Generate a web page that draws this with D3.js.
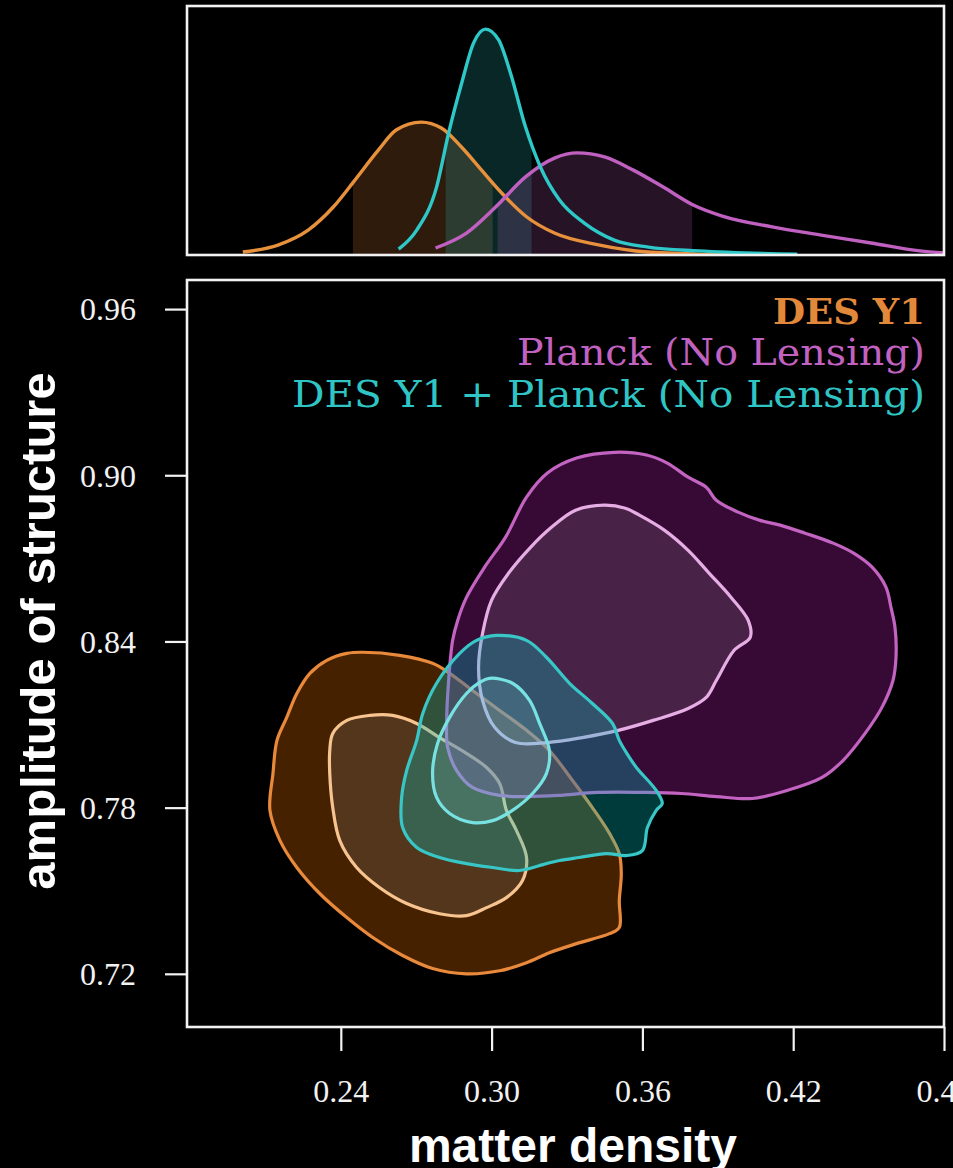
<!DOCTYPE html>
<html><head><meta charset="utf-8">
<script src="https://cdn.jsdelivr.net/npm/d3@7"></script>
<style>html,body{margin:0;padding:0;background:#000;} svg{display:block;}</style>
</head><body>
<svg id="chart" width="953" height="1168"></svg>
<script>
// ---------------- data ----------------
const xTicks = [0.24, 0.30, 0.36, 0.42, 0.48];
const xTickLabels = ["0.24", "0.30", "0.36", "0.42", "0.48"];
const yTicks = [0.72, 0.78, 0.84, 0.90, 0.96];
const yTickLabels = ["0.72", "0.78", "0.84", "0.90", "0.96"];
const xLimits = [0.1788, 0.48];
const yLimits = [0.7008, 0.9705];
const seriesNames = ["DES Y1", "Planck (No Lensing)", "DES Y1 + Planck (No Lensing)"];
const xTitle = "matter density";
const yTitle = "amplitude of structure";

// 1D marginal posteriors of matter density (relative density)
const desMargX = [0.201,0.215,0.227,0.237,0.245,0.255,0.262,0.272,0.280,0.288,0.296,0.304,0.314,0.325,0.343,0.362,0.382,0.414];
const desMargD = [0.013,0.044,0.110,0.212,0.322,0.464,0.552,0.587,0.561,0.477,0.375,0.274,0.168,0.097,0.044,0.013,0.004,0.000];
const jointMargX = [0.263,0.2702,0.2781,0.2829,0.2881,0.2928,0.2976,0.3028,0.3075,0.3135,0.3194,0.327,0.3369,0.3488,0.3624,0.3822,0.4216];
const jointMargD = [0.026,0.110,0.300,0.539,0.760,0.936,0.998,0.950,0.804,0.565,0.389,0.243,0.141,0.066,0.035,0.018,0.004];
const planckMargX = [0.2777,0.29,0.3016,0.3135,0.325,0.3341,0.3449,0.3564,0.3683,0.3802,0.3918,0.4116,0.4311,0.451,0.4704,0.4804];
const planckMargD = [0.031,0.097,0.212,0.345,0.428,0.451,0.433,0.375,0.300,0.221,0.172,0.124,0.088,0.053,0.018,0.009];
const desBand = [0.2448, 0.3004];
const jointBand = [0.2817, 0.3159];
const planckBand = [0.3024, 0.3798];

// 2D contours [matter density, amplitude of structure]
const desOuter = [[0.2487,0.8361],[0.2634,0.8350],[0.2765,0.8321],[0.2833,0.8285],[0.2924,0.8223],[0.3032,0.8151],[0.3139,0.8079],[0.3230,0.8006],[0.3322,0.7898],[0.3401,0.7800],[0.3469,0.7707],[0.3508,0.7634],[0.3516,0.7562],[0.3508,0.7464],[0.3508,0.7367],[0.3469,0.7345],[0.3338,0.7309],[0.3230,0.7276],[0.3139,0.7240],[0.3032,0.7211],[0.2900,0.7200],[0.2765,0.7219],[0.2646,0.7266],[0.2527,0.7331],[0.2424,0.7403],[0.2316,0.7490],[0.2225,0.7584],[0.2158,0.7681],[0.2118,0.7790],[0.2130,0.7923],[0.2146,0.8043],[0.2185,0.8126],[0.2225,0.8212],[0.2277,0.8285],[0.2344,0.8332],[0.2424,0.8357]];
const desInner = [[0.2368,0.8068],[0.2424,0.8115],[0.2515,0.8133],[0.2606,0.8133],[0.2702,0.8104],[0.2793,0.8053],[0.2900,0.7996],[0.2980,0.7945],[0.3032,0.7887],[0.3059,0.7790],[0.3099,0.7717],[0.3139,0.7620],[0.3123,0.7537],[0.3059,0.7475],[0.2980,0.7439],[0.2900,0.7410],[0.2793,0.7417],[0.2662,0.7454],[0.2555,0.7511],[0.2463,0.7584],[0.2396,0.7681],[0.2368,0.7800],[0.2356,0.7923],[0.2356,0.8006]];
const planckOuter = [[0.3488,0.9083],[0.3616,0.9073],[0.3699,0.9044],[0.3782,0.8993],[0.3854,0.8957],[0.3894,0.8910],[0.3981,0.8867],[0.4065,0.8838],[0.4148,0.8820],[0.4247,0.8791],[0.4359,0.8755],[0.4442,0.8718],[0.4514,0.8668],[0.4569,0.8596],[0.4589,0.8523],[0.4605,0.8451],[0.4609,0.8343],[0.4597,0.8259],[0.4553,0.8162],[0.4486,0.8068],[0.4398,0.7970],[0.4315,0.7909],[0.4176,0.7862],[0.4037,0.7833],[0.3894,0.7840],[0.3755,0.7851],[0.3616,0.7855],[0.3421,0.7855],[0.3266,0.7844],[0.3139,0.7840],[0.3032,0.7844],[0.2924,0.7873],[0.2861,0.7934],[0.2825,0.8017],[0.2821,0.8104],[0.2829,0.8259],[0.2845,0.8404],[0.2865,0.8476],[0.2900,0.8559],[0.2972,0.8668],[0.3055,0.8776],[0.3139,0.8921],[0.3222,0.9008],[0.3338,0.9062]];
const planckInner = [[0.3449,0.8892],[0.3532,0.8881],[0.3588,0.8856],[0.3687,0.8802],[0.3782,0.8729],[0.3866,0.8646],[0.3953,0.8559],[0.4021,0.8476],[0.4029,0.8415],[0.3965,0.8368],[0.3894,0.8259],[0.3854,0.8198],[0.3782,0.8158],[0.3643,0.8115],[0.3504,0.8079],[0.3361,0.8053],[0.3222,0.8035],[0.3095,0.8035],[0.3012,0.8090],[0.2964,0.8187],[0.2948,0.8306],[0.2964,0.8429],[0.3000,0.8549],[0.3067,0.8646],[0.3155,0.8740],[0.3238,0.8812],[0.3334,0.8874]];
const jointOuter = [[0.3020,0.8422],[0.3139,0.8404],[0.3218,0.8343],[0.3310,0.8249],[0.3401,0.8176],[0.3481,0.8104],[0.3508,0.8043],[0.3536,0.7999],[0.3576,0.7945],[0.3655,0.7862],[0.3679,0.7815],[0.3655,0.7790],[0.3620,0.7728],[0.3600,0.7645],[0.3536,0.7627],[0.3457,0.7634],[0.3349,0.7620],[0.3270,0.7609],[0.3218,0.7598],[0.3111,0.7573],[0.3004,0.7584],[0.2900,0.7598],[0.2793,0.7620],[0.2702,0.7656],[0.2646,0.7728],[0.2642,0.7837],[0.2662,0.7934],[0.2702,0.8043],[0.2726,0.8140],[0.2781,0.8249],[0.2873,0.8357],[0.2940,0.8404]];
const jointInner = [[0.2992,0.8267],[0.3083,0.8249],[0.3151,0.8187],[0.3191,0.8104],[0.3230,0.8006],[0.3218,0.7923],[0.3163,0.7851],[0.3083,0.7790],[0.3004,0.7753],[0.2924,0.7746],[0.2833,0.7779],[0.2781,0.7837],[0.2765,0.7923],[0.2785,0.8032],[0.2833,0.8126],[0.2900,0.8212],[0.2952,0.8252]];

// ---------------- layout / styles ----------------
const L = 187, R = 944, T = 280, B = 1027, TT = 6, TB = 255;
const svg = d3.select("#chart");
svg.append("rect").attr("width", 953).attr("height", 1168).attr("fill", "#000");

const x = d3.scaleLinear().domain(xLimits).range([L, R]);
const y = d3.scaleLinear().domain(yLimits).range([B, T]);
const yt = d3.scaleLinear().domain([0, 1.1]).range([TB, TT]);

const defs = svg.append("defs");
defs.append("clipPath").attr("id", "clipMain").append("rect").attr("x", L).attr("y", T).attr("width", R - L).attr("height", B - T);
defs.append("clipPath").attr("id", "clipTop").append("rect").attr("x", L).attr("y", TT).attr("width", R - L).attr("height", TB - TT);

// ---------------- top panel ----------------
const topG = svg.append("g").attr("clip-path", "url(#clipTop)");
const margs = [
  {xs: desMargX, ds: desMargD, band: desBand, col: "#e8913c", fill: "#e8893a"},
  {xs: jointMargX, ds: jointMargD, band: jointBand, col: "#2ec8c8", fill: "#2ec4c4"},
  {xs: planckMargX, ds: planckMargD, band: planckBand, col: "#c060c0", fill: "#c060c0"}
];
const area1 = d3.area().x(d => x(d[0])).y0(yt(0)).y1(d => yt(d[1])).curve(d3.curveMonotoneX);
const line1 = d3.line().x(d => x(d[0])).y(d => yt(d[1])).curve(d3.curveMonotoneX);
margs.forEach((m, i) => {
  const pts = m.xs.map((v, j) => [v, m.ds[j]]);
  const cid = "band" + i;
  defs.append("clipPath").attr("id", cid).append("rect")
    .attr("x", x(m.band[0])).attr("y", TT).attr("width", x(m.band[1]) - x(m.band[0])).attr("height", TB - TT);
  topG.append("path").datum(pts).attr("d", area1).attr("clip-path", `url(#${cid})`)
    .attr("fill", m.fill).attr("fill-opacity", 0.2).attr("stroke", m.fill).attr("stroke-opacity", 0.35).attr("stroke-width", 1.5);
});
[0, 2, 1].forEach(i => {
  const m = margs[i];
  const pts = m.xs.map((v, j) => [v, m.ds[j]]);
  topG.append("path").datum(pts).attr("d", line1).attr("fill", "none").attr("stroke", m.col).attr("stroke-width", 3.4);
});
svg.append("rect").attr("x", L).attr("y", TT).attr("width", R - L).attr("height", TB - TT)
  .attr("fill", "none").attr("stroke", "#f2f2f2").attr("stroke-width", 2.6);

// ---------------- main panel ----------------
const mainG = svg.append("g").attr("clip-path", "url(#clipMain)");
const cline = d3.line().x(d => x(d[0])).y(d => y(d[1])).curve(d3.curveCatmullRomClosed.alpha(0.5));
const sets = [
  {outer: desOuter, inner: desInner, fo: "#df6b00", oo: 0.31, fi: "#b4c8dc", oi: 0.13, so: "#e8893b", si: "#f7c48f"},
  {outer: planckOuter, inner: planckInner, fo: "#961c91", oo: 0.36, fi: "#c8d2c8", oi: 0.13, so: "#c464c2", si: "#e6aee4"},
  {outer: jointOuter, inner: jointInner, fo: "#00c3c3", oo: 0.30, fi: "#b4ffff", oi: 0.12, so: "#38c6c6", si: "#78e2e2"}
];
sets.forEach(s => {
  mainG.append("path").datum(s.outer).attr("d", cline).attr("fill", s.fo).attr("fill-opacity", s.oo);
  mainG.append("path").datum(s.inner).attr("d", cline).attr("fill", s.fi).attr("fill-opacity", s.oi);
  mainG.append("path").datum(s.outer).attr("d", cline).attr("fill", "none").attr("stroke", s.so).attr("stroke-width", 3.2);
  mainG.append("path").datum(s.inner).attr("d", cline).attr("fill", "none").attr("stroke", s.si).attr("stroke-width", 3.2);
});

// legend
const legCols = ["#e2883a", "#c262c0", "#2fc5c5"];
const legY = [324, 365, 407];
const legW = [152, 408, 633];
seriesNames.forEach((n, i) => {
  svg.append("text").attr("x", 925 - legW[i]).attr("y", legY[i]).attr("text-anchor", "start")
    .attr("textLength", legW[i]).attr("lengthAdjust", "spacingAndGlyphs")
    .attr("font-family", "'DejaVu Serif', serif").attr("font-size", i === 0 ? 35 : 37)
    .attr("font-weight", i === 0 ? "bold" : "normal")
    .attr("fill", legCols[i]).text(n);
});

svg.append("rect").attr("x", L).attr("y", T).attr("width", R - L).attr("height", B - T)
  .attr("fill", "none").attr("stroke", "#f2f2f2").attr("stroke-width", 2.6);

// axes
const yAxis = d3.axisLeft(y).tickValues(yTicks).tickFormat((d, i) => yTickLabels[i]).tickSize(22).tickPadding(29);
const gy = svg.append("g").attr("transform", `translate(${L},0)`).call(yAxis);
const xAxis = d3.axisBottom(x).tickValues(xTicks).tickFormat((d, i) => xTickLabels[i]).tickSize(24).tickPadding(28);
const gx = svg.append("g").attr("transform", `translate(0,${B})`).call(xAxis);
[gx, gy].forEach(g => {
  g.select(".domain").remove();
  g.selectAll(".tick line").attr("stroke", "#f2f2f2").attr("stroke-width", 2.2);
  g.selectAll(".tick text").attr("fill", "#f2f2f2").attr("font-family", "'Liberation Serif', serif").attr("font-size", 32);
});
gy.selectAll(".tick text").attr("dy", "0.34em");

// axis titles
svg.append("text").attr("x", 573).attr("y", 1162).attr("text-anchor", "middle")
  .attr("font-family", "'Liberation Sans', Arial, sans-serif").attr("font-weight", "bold").attr("font-size", 48)
  .attr("fill", "#fff").text(xTitle);
svg.append("text").attr("transform", "translate(55,631) rotate(-90)").attr("text-anchor", "middle")
  .attr("font-family", "'Liberation Sans', Arial, sans-serif").attr("font-weight", "bold").attr("font-size", 49)
  .attr("fill", "#fff").text(yTitle);
</script>
</body></html>
